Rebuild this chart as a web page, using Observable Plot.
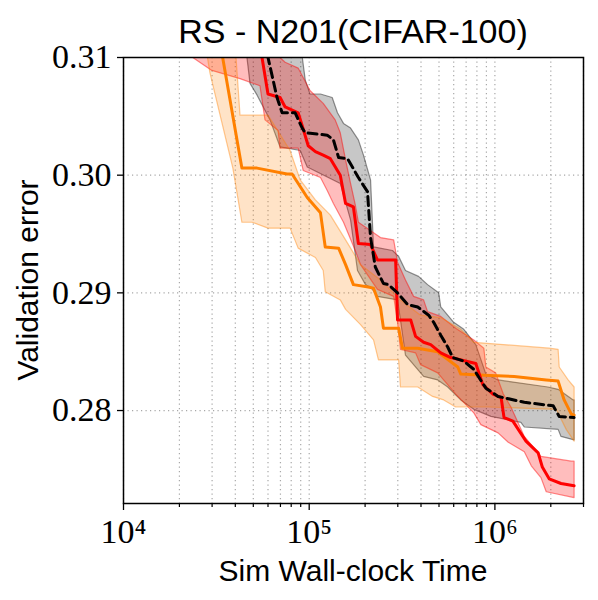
<!DOCTYPE html>
<html><head><meta charset="utf-8">
<script src="https://cdn.jsdelivr.net/npm/d3@7"></script>
<script src="https://cdn.jsdelivr.net/npm/@observablehq/plot@0.6"></script>
<style>
body{margin:0;background:#fff}
#wrap{position:relative;width:598px;height:600px;overflow:hidden}
.lbl{position:absolute;font-family:"Liberation Sans",Arial,sans-serif;color:#000;white-space:nowrap;text-align:center}
</style></head><body>
<div id="wrap">
<div id="chart"></div>
<div class="lbl" style="left:123px;width:460px;top:14px;font-size:34px;line-height:34px">RS - N201(CIFAR-100)</div>
<div class="lbl" style="left:123px;width:460px;top:556px;font-size:30px;line-height:30px">Sim Wall-clock Time</div>
<div class="lbl" style="left:-122px;width:300px;top:265px;font-size:30px;line-height:30px;transform:rotate(-90deg)">Validation error</div>
</div>
<script>
// axis ticks
const xMajor = [1e4, 1e5, 1e6];
const xMinor = [2e4,3e4,4e4,5e4,6e4,7e4,8e4,9e4,2e5,3e5,4e5,5e5,6e5,7e5,8e5,9e5,2e6,3e6];
const yTicks = [0.28, 0.29, 0.30, 0.31];
const yGrid = [0.28, 0.29, 0.30];

// orange series (mean, upper, lower)
const orangeT = [3.30e4,4.34e4,5.24e4,7.60e4,8.09e4,9.76e4,1.15e5,1.22e5,1.44e5,1.57e5,1.73e5,2.08e5,2.22e5,2.42e5,2.51e5,3.03e5,3.18e5,3.84e5,4.92e5,6.31e5,6.55e5,8.72e5,1.27e6,1.89e6,2.19e6,2.36e6,2.58e6,2.67e6];
const orangeErr = [0.3114,0.3006,0.3006,0.3001,0.3001,0.2981,0.2968,0.2939,0.2938,0.2924,0.2907,0.2905,0.2904,0.2888,0.2870,0.2870,0.2853,0.2853,0.2850,0.2837,0.2831,0.2830,0.2829,0.2826,0.2825,0.2809,0.2797,0.2796];
const orangeUpT = [3.98e4,4.24e4,6.00e4,7.89e4,8.94e4,1.08e5,1.30e5,1.57e5,1.89e5,2.42e5,3.10e5,3.98e5,5.11e5,6.55e5,7.70e5,1.96e6,2.19e6,2.22e6,2.48e6,2.67e6];
const orangeUpErr = [0.3114,0.3051,0.3051,0.3021,0.2996,0.2979,0.2966,0.2945,0.2924,0.2911,0.2894,0.2881,0.2879,0.2869,0.2858,0.2853,0.2852,0.2837,0.2826,0.2820];
const orangeLoT = [2.74e4,2.92e4,3.88e4,4.34e4,4.92e4,6.00e4,7.89e4,8.72e4,1.08e5,1.19e5,1.22e5,1.47e5,1.57e5,1.89e5,2.22e5,2.36e5,3.03e5,3.10e5,3.84e5,4.62e5,5.30e5,6.15e5,9.17e5,2.14e6,2.42e6,2.67e6];
const orangeLoErr = [0.3114,0.3087,0.3006,0.2960,0.2960,0.2955,0.2955,0.2938,0.2930,0.2919,0.2901,0.2894,0.2886,0.2873,0.2860,0.2843,0.2843,0.2820,0.2820,0.2812,0.2809,0.2803,0.2803,0.2801,0.2784,0.2774];

// red series
const redT = [5.30e4,5.57e4,6.00e4,6.97e4,7.42e4,8.72e4,9.17e4,9.88e4,1.08e5,1.19e5,1.30e5,1.47e5,1.57e5,1.73e5,1.84e5,2.14e5,2.33e5,2.92e5,2.99e5,3.52e5,3.74e5,4.13e5,4.51e5,5.11e5,5.78e5,7.89e5,8.61e5,9.76e5,1.08e6,1.12e6,1.25e6,1.47e6,1.71e6,1.80e6,1.96e6,2.27e6,2.67e6];
const redErr = [0.3114,0.3100,0.3069,0.3066,0.3058,0.3053,0.3042,0.3025,0.3020,0.3017,0.3014,0.3000,0.2976,0.2973,0.2942,0.2941,0.2928,0.2928,0.2877,0.2877,0.2863,0.2858,0.2856,0.2849,0.2845,0.2840,0.2822,0.2814,0.2811,0.2794,0.2791,0.2774,0.2764,0.2752,0.2742,0.2738,0.2736];
const redUpT = [5.57e4,7.42e4,8.72e4,1.01e5,1.19e5,1.38e5,1.47e5,1.57e5,1.67e5,1.77e5,1.84e5,2.42e5,2.85e5,2.99e5,3.30e5,3.65e5,4.13e5,4.34e5,5.11e5,6.15e5,7.70e5,8.72e5,8.94e5,1.01e6,1.11e6,1.22e6,1.44e6,1.77e6,2.58e6,2.67e6];
const redUpErr = [0.3114,0.3096,0.3091,0.3072,0.3061,0.3047,0.3036,0.3013,0.2993,0.2975,0.2960,0.2947,0.2945,0.2926,0.2911,0.2897,0.2894,0.2884,0.2880,0.2870,0.2860,0.2853,0.2837,0.2832,0.2814,0.2803,0.2778,0.2761,0.2757,0.2757];
const redLoT = [2.27e4,2.36e4,2.99e4,4.24e4,5.43e4,5.78e4,6.80e4,6.97e4,8.72e4,9.28e4,1.15e5,1.25e5,1.35e5,1.53e5,1.77e5,1.89e5,2.33e5,2.85e5,2.99e5,3.10e5,3.74e5,3.98e5,4.92e5,6.15e5,7.70e5,8.40e5,1.04e6,1.18e6,1.44e6,1.57e6,1.77e6,1.89e6,2.67e6];
const redLoErr = [0.3104,0.3100,0.3089,0.3082,0.3076,0.3047,0.3038,0.3023,0.3023,0.3004,0.2998,0.2987,0.2976,0.2960,0.2936,0.2924,0.2903,0.2897,0.2875,0.2852,0.2849,0.2839,0.2832,0.2814,0.2798,0.2788,0.2781,0.2773,0.2765,0.2753,0.2743,0.2731,0.2726];

// black (dashed) series
const blackT = [5.86e4,6.00e4,6.71e4,7.15e4,8.40e4,9.17e4,9.52e4,1.25e5,1.35e5,1.44e5,1.61e5,1.84e5,2.06e5,2.14e5,2.27e5,2.51e5,2.67e5,2.99e5,3.39e5,3.84e5,4.40e5,4.68e5,5.11e5,5.57e5,5.93e5,6.80e5,7.70e5,8.94e5,1.04e6,1.44e6,2.06e6,2.22e6,2.67e6];
const blackErr = [0.3114,0.3100,0.3066,0.3053,0.3053,0.3040,0.3036,0.3034,0.3030,0.3015,0.3014,0.2998,0.2986,0.2947,0.2922,0.2908,0.2907,0.2900,0.2890,0.2888,0.2881,0.2875,0.2864,0.2854,0.2845,0.2842,0.2835,0.2819,0.2812,0.2807,0.2804,0.2795,0.2794];
const greyUpT = [8.94e4,9.52e4,1.01e5,1.15e5,1.33e5,1.42e5,1.53e5,1.67e5,1.84e5,1.96e5,2.14e5,2.22e5,2.81e5,3.03e5,3.30e5,3.88e5,4.34e5,4.98e5,5.11e5,6.00e5,6.80e5,7.89e5,8.94e5,1.04e6,1.93e6,2.19e6,2.64e6,2.67e6];
const greyUpErr = [0.3114,0.3081,0.3069,0.3069,0.3066,0.3053,0.3044,0.3040,0.3030,0.3017,0.2996,0.2939,0.2936,0.2931,0.2919,0.2914,0.2907,0.2900,0.2888,0.2875,0.2869,0.2856,0.2831,0.2826,0.2820,0.2818,0.2809,0.2809];
const greyLoT = [4.51e4,4.80e4,5.24e4,6.15e4,6.97e4,8.94e4,9.76e4,1.47e5,1.67e5,1.82e5,2.01e5,2.19e5,2.33e5,2.99e5,3.10e5,3.30e5,4.13e5,4.92e5,5.57e5,6.55e5,7.70e5,9.52e5,1.38e6,1.44e6,2.19e6,2.27e6,2.67e6];
const greyLoErr = [0.3114,0.3078,0.3068,0.3047,0.3024,0.3021,0.3007,0.2993,0.2962,0.2919,0.2907,0.2903,0.2897,0.2894,0.2877,0.2847,0.2829,0.2826,0.2820,0.2809,0.2801,0.2795,0.2790,0.2786,0.2784,0.2778,0.2775];

const sup = {4: "\u2074", 5: "\u2075", 6: "\u2076"};
const pts = (xs, ys) => xs.map((x, i) => ({x, y: ys[i]}));
const poly = (ux, uy, lx, ly) => pts(ux, uy).concat(pts(lx, ly).reverse());
const band = (data, color, op) => Plot.line(data, {
  x: "x", y: "y", fill: color, fillOpacity: op,
  stroke: color, strokeOpacity: op + 0.2, strokeWidth: 1.2, clip: true
});
const gridStyle = {stroke: "#a8a8a8", strokeOpacity: 1, strokeDasharray: "1.2,3.3", strokeWidth: 1.2};

const chart = Plot.plot({
  width: 598, height: 600,
  marginTop: 57, marginBottom: 97, marginLeft: 123, marginRight: 15,
  style: {background: "white", overflow: "visible"},
  x: {type: "log", domain: [1e4, 3e6]},
  y: {domain: [0.2721, 0.31]},
  marks: [
    Plot.gridX(xMajor.concat(xMinor), gridStyle),
    Plot.gridY(yGrid, gridStyle),
    band(poly(greyUpT, greyUpErr, greyLoT, greyLoErr), "black", 0.22),
    band(poly(redUpT, redUpErr, redLoT, redLoErr), "red", 0.26),
    band(poly(orangeUpT, orangeUpErr, orangeLoT, orangeLoErr), "#ff8000", 0.22),
    Plot.line(pts(orangeT, orangeErr), {x: "x", y: "y", stroke: "#ff8000", strokeWidth: 3, clip: true}),
    Plot.line(pts(redT, redErr), {x: "x", y: "y", stroke: "red", strokeWidth: 3, clip: true}),
    Plot.line(pts(blackT, blackErr), {x: "x", y: "y", stroke: "black", strokeWidth: 3, strokeDasharray: "9,5", clip: true}),
    Plot.axisX({ticks: xMajor, tickSize: 7, tickPadding: 8, strokeWidth: 1.3,
      tickFormat: d => "10" + sup[Math.round(Math.log10(d))],
      fontSize: 34, fontFamily: "Liberation Serif", label: null}),
    Plot.axisX({ticks: xMinor, tickSize: 4, strokeWidth: 1.2, tickFormat: () => "", label: null}),
    Plot.axisY({ticks: yTicks, tickSize: 6, tickPadding: 6, strokeWidth: 1.3,
      tickFormat: d => d.toFixed(2), fontSize: 34, fontFamily: "Liberation Serif", label: null}),
    Plot.frame({stroke: "black", strokeWidth: 1.5})
  ]
});
document.getElementById("chart").appendChild(chart);
</script>
</body></html>
